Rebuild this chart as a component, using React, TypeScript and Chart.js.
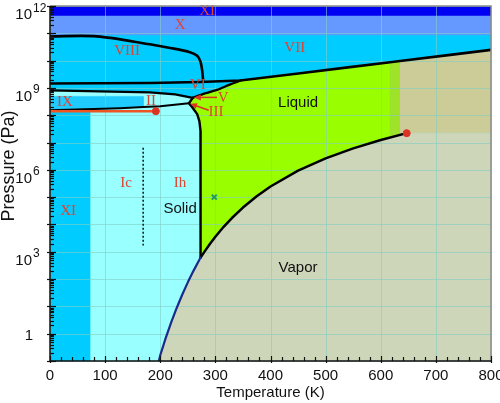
import React, { useEffect, useRef } from "react";
import { Chart, registerables } from "chart.js";

Chart.register(...registerables);

type Pt = [number, number];

// ---------- axes ----------
const T_MIN = 0;
const T_MAX = 800;
const P_MIN = 0.1;
const P_MAX = 1e12;
const T_STEP = 100;
const T_MINOR_STEP = 20;
const P_DECADE_EXPONENTS = [-1, 0, 1, 2, 3, 4, 5, 6, 7, 8, 9, 10, 11, 12];
const P_LABEL_EXPONENTS = [0, 3, 6, 9, 12];

// ---------- phase boundaries (T in K, P in Pa) ----------
const sublimationCurve: Pt[] = [
  [197.5, 0.1], [200, 0.162], [210, 0.7], [220, 2.64], [230, 8.94],
  [240, 27.3], [250, 76], [260, 195.8], [273.16, 611.7],
];
const vaporizationCurve: Pt[] = [
  [273.16, 611.7], [280, 991.8], [290, 1920], [300, 3537], [315, 8205],
  [330, 17210], [350, 41680], [375, 108500], [400, 245800], [450, 932000],
  [500, 2.639e6], [550, 6.117e6], [600, 1.234e7], [647.1, 2.206e7],
];
const meltingIhCurve: Pt[] = [
  [259, 4.34e8], [252, 2.74e8], [258, 1.96e8], [267, 1.1e8], [271, 6.1e7],
  [273, 2.7e7], [273.16, 611.7],
];
const liquidUpperCurve: Pt[] = [
  [259, 4.34e8], [281, 6.31e8], [303, 8.45e8], [326, 1.33e9], [345, 1.86e9],
];
const iceVIIUpperLine: Pt[] = [
  [0, 1.45e9], [181, 1.51e9], [272, 1.64e9], [345, 1.86e9], [454, 3.45e9],
  [544, 5.78e9], [617, 8.73e9], [635, 9.69e9], [726, 1.62e10], [800, 2.48e10],
];
const iceVIIIUpperLine: Pt[] = [
  [0, 7.73e10], [85, 7.73e10], [181, 3.97e10], [218, 2.92e10], [254, 2.04e10],
  [267, 1.5e10], [273, 9.1e9], [276, 4.4e9], [278, 1.65e9],
];
const iceVILowerLine: Pt[] = [[0, 8.09e8], [181, 6.86e8], [227, 5.8e8], [259, 4.34e8]];
const iceIhUpperLine: Pt[] = [[0, 1.53e8], [127, 1.81e8], [169, 1.99e8], [200, 2.14e8], [252, 2.74e8]];
const iceXIUpperLine: Pt[] = [[0, 1.41e8], [192, 1.41e8]];
const icIhDivider: Pt[] = [[169, 6.5e6], [169, 1.7e3]];
const criticalPoint: Pt[] = [[647.1, 2.206e7]];
const iceXIEndPoint: Pt[] = [[192, 1.41e8]];
const ambientPoint: Pt[] = [[298, 1.0e5]];

// region limits
const P_BAND_XI = 4.27e11;
const P_BAND_X = 8.79e10;
const T_XI = 72.6;
const T_IX = 169;
const P_IX_TOP = 4.9e8;
const T_STRIP_LEFT = 617;
const T_STRIP_RIGHT = 635;
const P_CRIT = 2.206e7;
const P_LOW_FILL = 1e3;
const T_IH_RIGHT = 300;

// ---------- labels ----------
const phaseLabels = ["XI", "X", "VIII", "VII", "VI", "V", "III", "II", "IX", "Ic", "Ih", "XI"];
const phaseLabelT = [285, 236, 140, 444, 268, 314, 301, 183, 27, 138, 236, 33];
const phaseLabelP = [6.31e11, 1.97e11, 2.26e10, 2.9e10, 1.23e9, 4.34e8, 1.3e8, 3.24e8, 2.98e8, 3.23e5, 3.23e5, 3.14e4];
const stateLabels = ["Liquid", "Solid", "Vapor"];
const stateLabelT = [450, 236, 450];
const stateLabelP = [2.74e8, 3.86e4, 261];
const arrowFrom: Pt[] = [[303, 4.5e8], [288, 1.53e8]];
const arrowTo: Pt[] = [[261, 4.5e8], [254, 2.63e8]];

const X_TITLE = "Temperature (K)";
const Y_TITLE = "Pressure (Pa)";

const SANS = '"Liberation Sans", Arial, Helvetica, sans-serif';
const SERIF = '"Liberation Serif", "Times New Roman", serif';
const GRID_COLOR = "rgba(130,205,195,0.6)";

const toXY = (pts: Pt[]) => pts.map(([x, y]) => ({ x, y }));
const rev = (pts: Pt[]) => pts.slice().reverse();

let FIRST_LINE_INDEX = 0;

function buildDatasets() {
  const bg: Pt[] = [[T_MIN, P_MIN], [T_MAX, P_MIN], [T_MAX, P_MAX], [T_MIN, P_MAX]];
  const blueBand: Pt[] = [[T_MIN, P_BAND_XI], [T_MAX, P_BAND_XI], [T_MAX, P_MAX], [T_MIN, P_MAX]];
  const slateBand: Pt[] = [[T_MIN, P_BAND_X], [T_MAX, P_BAND_X], [T_MAX, P_BAND_XI], [T_MIN, P_BAND_XI]];
  const ihTop = iceIhUpperLine[iceIhUpperLine.length - 1][1];
  const ihPoly: Pt[] = [[T_MIN, P_MIN], ...iceIhUpperLine, [T_IH_RIGHT, ihTop], [T_IH_RIGHT, P_MIN]];
  const pXI = iceXIUpperLine[0][1];
  const xiStrip: Pt[] = [[T_MIN, P_MIN], [T_XI, P_MIN], [T_XI, pXI], [T_MIN, pXI]];
  const iiBand: Pt[] = [...iceVILowerLine, ...rev(iceIhUpperLine)];
  const ixBox: Pt[] = [[T_MIN, P_IX_TOP], [T_IX, P_IX_TOP], ...rev(iceIhUpperLine.filter((p) => p[0] <= T_IX))];
  const liquidPoly: Pt[] = [
    ...rev(meltingIhCurve),
    ...liquidUpperCurve.slice(1),
    ...iceVIIUpperLine.filter((p) => p[0] > 345 && p[0] <= T_STRIP_LEFT),
    [T_STRIP_LEFT, P_LOW_FILL],
  ];
  const stripPoly: Pt[] = [
    [T_STRIP_LEFT, P_LOW_FILL],
    ...iceVIIUpperLine.filter((p) => p[0] >= T_STRIP_LEFT && p[0] <= T_STRIP_RIGHT),
    [T_STRIP_RIGHT, P_LOW_FILL],
  ];
  const tanPoly: Pt[] = [
    [T_STRIP_RIGHT, P_CRIT], [T_MAX, P_CRIT],
    ...rev(iceVIIUpperLine.filter((p) => p[0] >= T_STRIP_RIGHT)),
  ];
  const vaporPoly: Pt[] = [...sublimationCurve, ...vaporizationCurve.slice(1), [T_MAX, P_CRIT], [T_MAX, P_MIN]];

  const polygon = (pts: Pt[], color: string) => ({
    data: toXY(pts), backgroundColor: color, borderColor: color, borderWidth: 0.6,
    fill: "shape", pointRadius: 0, tension: 0,
  });
  const curve = (pts: Pt[], color: string, width: number, extra: any = {}) => ({
    data: toXY(pts), borderColor: color, borderWidth: width, fill: false,
    pointRadius: 0, tension: 0, borderCapStyle: "round", borderJoinStyle: "round", ...extra,
  });
  const dot = (pts: Pt[], color: string, style = "circle", r = 3.5, bw = 1) => ({
    data: toXY(pts), showLine: false, pointRadius: r, pointStyle: style,
    pointBackgroundColor: color, pointBorderColor: color, pointBorderWidth: bw,
    borderColor: color, backgroundColor: color,
  });

  const fills: any[] = [
    polygon(bg, "#00ccff"),
    polygon(blueBand, "#0000f2"),
    polygon(slateBand, "#6699ff"),
    polygon(ihPoly, "#99ffff"),
    polygon(xiStrip, "#00ccff"),
    polygon(iiBand, "#99ffff"),
    polygon(ixBox, "#1fcbff"),
    polygon(liquidPoly, "#99ff00"),
    polygon(stripPoly, "#9ee22a"),
    polygon(tanPoly, "#cccc99"),
    polygon(vaporPoly, "#ced6b9"),
  ];
  const lines: any[] = [
    curve(iceIhUpperLine, "#000", 2),
    curve(iceXIUpperLine, "#ee5522", 2.5),
    curve(iceVILowerLine, "#000", 2.2),
    curve(iceVIIUpperLine, "#000", 2.6),
    curve(iceVIIIUpperLine, "#000", 2.6, { tension: 0.3 }),
    curve(liquidUpperCurve, "#000", 2.4, { tension: 0.3 }),
    curve(meltingIhCurve, "#000", 2.4),
    curve(vaporizationCurve, "#000", 2.5),
    curve(sublimationCurve, "#1c2a8c", 2.2),
    curve(icIhDivider, "#111", 1.5, { borderDash: [2, 2], borderCapStyle: "butt" }),
    dot(iceXIEndPoint, "#dd3322"),
    dot(criticalPoint, "#dd3322"),
    dot(ambientPoint, "#22996a", "crossRot", 3.5, 2),
  ];
  FIRST_LINE_INDEX = fills.length;
  const list = [...fills, ...lines];
  const n = list.length;
  return list.map((d, i) => ({ ...d, order: n - i }));
}

const decorPlugin = {
  id: "decor",
  beforeDatasetDraw(chart: any, args: any) {
    if (args.index !== FIRST_LINE_INDEX) return;
    // grid lines over the filled phase regions, under the boundary lines
    const { ctx, chartArea: a, scales } = chart;
    ctx.save();
    ctx.strokeStyle = GRID_COLOR;
    ctx.lineWidth = 1;
    scales.x.ticks.forEach((t: any) => {
      const px = Math.round(scales.x.getPixelForValue(t.value)) + 0.5;
      ctx.beginPath();
      ctx.moveTo(px, a.top);
      ctx.lineTo(px, a.bottom);
      ctx.stroke();
    });
    scales.y.ticks.forEach((t: any) => {
      const py = Math.round(scales.y.getPixelForValue(t.value)) + 0.5;
      ctx.beginPath();
      ctx.moveTo(a.left, py);
      ctx.lineTo(a.right, py);
      ctx.stroke();
    });
    ctx.restore();
  },
  afterDraw(chart: any) {
    const { ctx, chartArea: a, scales } = chart;
    const x = scales.x;
    const y = scales.y;
    ctx.save();

    // phase labels
    ctx.textAlign = "center";
    ctx.textBaseline = "middle";
    ctx.fillStyle = "#dd4433";
    ctx.font = `15px ${SERIF}`;
    phaseLabels.forEach((t, i) => {
      ctx.fillText(t, x.getPixelForValue(phaseLabelT[i]), y.getPixelForValue(phaseLabelP[i]));
    });
    ctx.fillStyle = "#111";
    ctx.font = `15px ${SANS}`;
    stateLabels.forEach((t, i) => {
      ctx.fillText(t, x.getPixelForValue(stateLabelT[i]), y.getPixelForValue(stateLabelP[i]));
    });

    // arrows
    ctx.strokeStyle = "#dd3322";
    ctx.fillStyle = "#dd3322";
    ctx.lineWidth = 1.5;
    arrowFrom.forEach((f, i) => {
      const fx = x.getPixelForValue(f[0]);
      const fy = y.getPixelForValue(f[1]);
      const tx = x.getPixelForValue(arrowTo[i][0]);
      const ty = y.getPixelForValue(arrowTo[i][1]);
      const ang = Math.atan2(ty - fy, tx - fx);
      ctx.beginPath();
      ctx.moveTo(fx, fy);
      ctx.lineTo(tx - 4 * Math.cos(ang), ty - 4 * Math.sin(ang));
      ctx.stroke();
      ctx.beginPath();
      ctx.moveTo(tx, ty);
      ctx.lineTo(tx - 7 * Math.cos(ang) + 3 * Math.sin(ang), ty - 7 * Math.sin(ang) - 3 * Math.cos(ang));
      ctx.lineTo(tx - 7 * Math.cos(ang) - 3 * Math.sin(ang), ty - 7 * Math.sin(ang) + 3 * Math.cos(ang));
      ctx.closePath();
      ctx.fill();
    });

    // frame
    ctx.lineWidth = 1.5;
    ctx.strokeStyle = "#8a8a8a";
    ctx.beginPath();
    ctx.moveTo(a.left, a.top);
    ctx.lineTo(a.right, a.top);
    ctx.lineTo(a.right, a.bottom);
    ctx.stroke();
    ctx.strokeStyle = "#111";
    ctx.beginPath();
    ctx.moveTo(a.left, a.top);
    ctx.lineTo(a.left, a.bottom);
    ctx.lineTo(a.right, a.bottom);
    ctx.stroke();

    // x ticks
    ctx.lineWidth = 1.2;
    for (let t = T_MIN; t <= T_MAX; t += T_MINOR_STEP) {
      const px = Math.round(x.getPixelForValue(t)) + 0.5;
      const major = t % T_STEP === 0;
      ctx.beginPath();
      ctx.moveTo(px, a.bottom + (major ? 2 : 0));
      ctx.lineTo(px, a.bottom - (major ? 5 : 4));
      ctx.stroke();
    }
    // y ticks
    P_DECADE_EXPONENTS.forEach((e) => {
      const py = Math.round(y.getPixelForValue(Math.pow(10, e))) + 0.5;
      ctx.beginPath();
      ctx.moveTo(a.left - 3, py);
      ctx.lineTo(a.left + 6, py);
      ctx.stroke();
      if (e < 12) {
        for (let m = 2; m <= 9; m++) {
          const my = Math.round(y.getPixelForValue(m * Math.pow(10, e))) + 0.5;
          ctx.beginPath();
          ctx.moveTo(a.left, my);
          ctx.lineTo(a.left + 4, my);
          ctx.stroke();
        }
      }
    });

    // y tick labels
    ctx.fillStyle = "#111";
    ctx.textBaseline = "alphabetic";
    P_LABEL_EXPONENTS.forEach((e) => {
      const py = y.getPixelForValue(Math.pow(10, e));
      if (e === 0) {
        ctx.font = `15px ${SANS}`;
        ctx.textAlign = "right";
        ctx.fillText("1", a.left - 17, py + 6);
      } else {
        ctx.font = `15px ${SANS}`;
        ctx.textAlign = "right";
        ctx.fillText("10", a.left - 18, py + 13);
        ctx.font = `12px ${SANS}`;
        ctx.textAlign = "left";
        ctx.fillText(String(e), a.left - 17, py + 5.5);
      }
    });

    // y title
    ctx.font = `18px ${SANS}`;
    ctx.textAlign = "center";
    ctx.textBaseline = "middle";
    ctx.translate(9, 166);
    ctx.rotate(-Math.PI / 2);
    ctx.fillText(Y_TITLE, 0, 0);

    ctx.restore();
  },
};

export default function App() {
  const ref = useRef<HTMLCanvasElement>(null);
  useEffect(() => {
    document.body.style.margin = "0";
    Chart.defaults.font.family = SANS;
    const chart = new Chart(ref.current as HTMLCanvasElement, {
      type: "line",
      data: { datasets: buildDatasets() as any },
      options: {
        animation: false,
        responsive: false,
        maintainAspectRatio: false,
        layout: { padding: { top: 1.5, right: 9, left: 0, bottom: 0 } },
        plugins: { legend: { display: false }, tooltip: { enabled: false }, title: { display: false } },
        scales: {
          x: {
            type: "linear",
            min: T_MIN,
            max: T_MAX,
            ticks: { stepSize: T_STEP, padding: 6, color: "#111", font: { size: 15, family: SANS } },
            grid: { display: true, color: GRID_COLOR, drawOnChartArea: false, drawTicks: false },
            border: { display: false },
            title: { display: true, text: X_TITLE, color: "#111", font: { size: 15, family: SANS }, padding: { top: 0, bottom: 1 } },
            afterFit: (s: any) => { s.height = 42; s.paddingLeft = 0; s.paddingRight = 0; },
          },
          y: {
            type: "logarithmic",
            min: P_MIN,
            max: P_MAX,
            afterBuildTicks: (s: any) => { s.ticks = P_DECADE_EXPONENTS.map((e) => ({ value: Math.pow(10, e) })); },
            ticks: { display: false },
            grid: { display: true, color: GRID_COLOR, drawOnChartArea: false, drawTicks: false },
            border: { display: false },
            afterFit: (s: any) => { s.width = 50; s.paddingTop = 0; s.paddingBottom = 0; },
          },
        } as any,
      },
      plugins: [decorPlugin],
    });
    return () => chart.destroy();
  }, []);
  return (
    <div style={{ width: 500, height: 403 }}>
      <canvas ref={ref} width={500} height={403} style={{ display: "block" }} />
    </div>
  );
}
